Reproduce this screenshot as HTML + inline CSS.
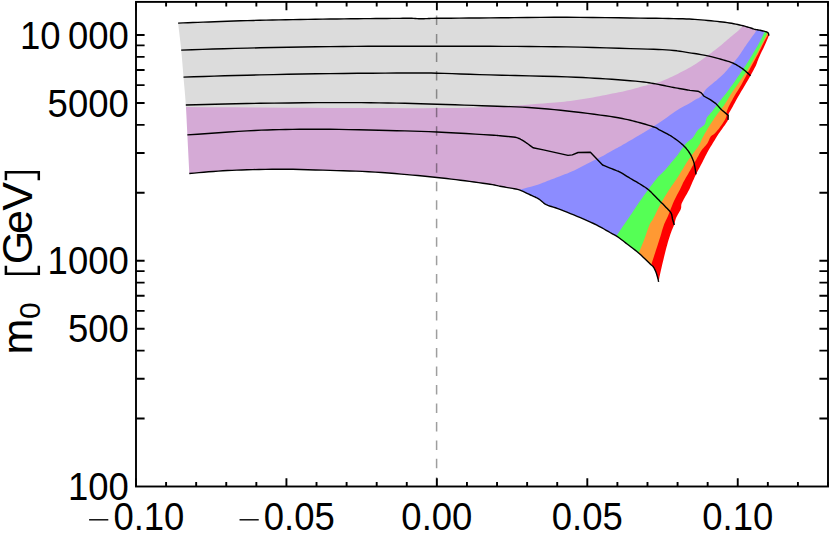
<!DOCTYPE html>
<html><head><meta charset="utf-8"><title>plot</title>
<style>html,body{margin:0;padding:0;background:#fff;overflow:hidden}svg{display:block;position:absolute;left:0;top:0}</style></head>
<body>
<svg width="830" height="533" viewBox="0 0 830 533">
<rect width="830" height="533" fill="#fff"/>
<defs><mask id="c" maskUnits="userSpaceOnUse" x="0" y="0" width="830" height="533"><path d="M178.10 23.10 L183.09 22.91 L187.97 22.72 L192.85 22.54 L197.84 22.35 L203.05 22.15 L208.60 21.95 L214.55 21.73 L220.84 21.49 L227.34 21.25 L233.96 21.02 L240.58 20.80 L247.10 20.60 L253.46 20.43 L259.75 20.29 L266.04 20.16 L272.41 20.04 L278.94 19.92 L285.70 19.80 L292.80 19.67 L300.20 19.54 L307.76 19.41 L315.34 19.28 L322.80 19.17 L330.00 19.06 L337.03 18.96 L344.02 18.88 L350.89 18.80 L357.57 18.73 L363.96 18.66 L370.00 18.60 L375.81 18.55 L381.48 18.50 L386.88 18.46 L391.85 18.42 L396.27 18.38 L400.00 18.35 L402.82 18.31 L404.79 18.26 L406.21 18.22 L407.36 18.19 L408.53 18.18 L410.00 18.20 L411.75 18.27 L413.53 18.38 L415.34 18.51 L417.13 18.64 L418.90 18.75 L420.60 18.80 L422.26 18.79 L423.91 18.75 L425.53 18.67 L427.09 18.59 L428.59 18.51 L430.00 18.45 L430.77 18.42 L430.81 18.39 L430.77 18.38 L431.35 18.36 L433.20 18.34 L437.00 18.30 L442.89 18.25 L450.37 18.19 L459.12 18.13 L468.85 18.06 L479.25 17.98 L490.00 17.90 L501.49 17.80 L514.04 17.66 L527.25 17.52 L540.74 17.40 L554.12 17.32 L567.00 17.30 L579.80 17.35 L592.90 17.47 L605.90 17.62 L618.36 17.80 L629.87 17.96 L640.00 18.10 L648.65 18.21 L656.13 18.30 L662.66 18.39 L668.44 18.49 L673.69 18.58 L678.60 18.70 L682.92 18.82 L686.43 18.94 L689.41 19.07 L692.11 19.22 L694.82 19.39 L697.80 19.60 L701.07 19.85 L704.40 20.13 L707.74 20.44 L711.02 20.76 L714.16 21.08 L717.10 21.40 L719.83 21.70 L722.40 22.00 L724.84 22.31 L727.17 22.62 L729.41 22.95 L731.60 23.30 L733.73 23.69 L735.80 24.10 L737.78 24.53 L739.66 24.97 L741.44 25.39 L743.10 25.80 L744.65 26.19 L746.09 26.59 L747.42 26.98 L748.66 27.34 L749.78 27.69 L750.80 28.00 L751.65 28.27 L752.33 28.51 L752.89 28.73 L753.43 28.92 L754.01 29.11 L754.70 29.30 L755.51 29.48 L756.39 29.64 L757.31 29.80 L758.24 29.96 L759.18 30.12 L760.10 30.30 L761.04 30.50 L762.01 30.72 L762.99 30.95 L763.93 31.18 L764.78 31.40 L765.50 31.60 L766.08 31.78 L766.55 31.94 L766.94 32.09 L767.26 32.25 L767.54 32.41 L767.80 32.60 L768.03 32.81 L768.20 33.02 L768.33 33.25 L768.43 33.49 L768.52 33.74 L768.60 34.00 L768.67 34.28 L768.71 34.57 L768.74 34.88 L768.76 35.19 L768.77 35.50 L768.80 35.80 L768.20 37.25 L767.61 38.67 L767.03 40.10 L766.43 41.55 L765.79 43.04 L765.10 44.60 L764.31 46.30 L763.43 48.13 L762.51 50.01 L761.61 51.84 L760.79 53.53 L760.10 55.00 L759.56 56.20 L759.13 57.20 L758.77 58.06 L758.45 58.86 L758.14 59.65 L757.80 60.50 L757.47 61.35 L757.20 62.14 L756.93 62.93 L756.62 63.78 L756.23 64.75 L755.70 65.90 L755.02 67.28 L754.20 68.86 L753.31 70.56 L752.36 72.31 L751.41 74.04 L750.50 75.70 L749.63 77.26 L748.76 78.76 L747.89 80.26 L747.00 81.77 L746.08 83.34 L745.10 85.00 L744.05 86.77 L742.92 88.65 L741.76 90.57 L740.60 92.51 L739.47 94.42 L738.40 96.25 L737.39 98.03 L736.41 99.78 L735.46 101.50 L734.54 103.19 L733.66 104.82 L732.80 106.40 L731.94 107.94 L731.06 109.45 L730.22 110.92 L729.45 112.31 L728.79 113.61 L728.30 114.80 L728.05 115.82 L728.04 116.69 L728.13 117.46 L728.24 118.20 L728.23 119.00 L728.00 119.90 L727.54 120.91 L726.93 121.97 L726.21 123.08 L725.42 124.22 L724.59 125.40 L723.75 126.60 L722.87 127.86 L721.91 129.19 L720.92 130.55 L719.92 131.91 L718.97 133.24 L718.10 134.50 L717.36 135.64 L716.71 136.67 L716.12 137.67 L715.50 138.71 L714.82 139.88 L714.00 141.25 L713.02 142.86 L711.92 144.67 L710.75 146.59 L709.56 148.58 L708.39 150.57 L707.30 152.50 L706.29 154.38 L705.32 156.27 L704.38 158.16 L703.46 160.04 L702.53 161.91 L701.60 163.75 L700.64 165.60 L699.64 167.46 L698.66 169.32 L697.70 171.11 L696.80 172.82 L696.00 174.40 L695.31 175.81 L694.71 177.08 L694.18 178.25 L693.67 179.39 L693.15 180.56 L692.60 181.80 L692.02 183.12 L691.45 184.48 L690.87 185.86 L690.27 187.25 L689.65 188.64 L689.00 190.00 L688.28 191.37 L687.51 192.76 L686.71 194.14 L685.92 195.49 L685.17 196.78 L684.50 198.00 L683.89 199.12 L683.31 200.18 L682.77 201.17 L682.28 202.13 L681.85 203.07 L681.50 204.00 L681.29 204.88 L681.22 205.69 L681.22 206.48 L681.19 207.31 L681.07 208.21 L680.75 209.25 L680.19 210.46 L679.44 211.81 L678.59 213.23 L677.72 214.69 L676.91 216.13 L676.25 217.50 L675.76 218.77 L675.38 219.99 L675.07 221.19 L674.77 222.40 L674.43 223.66 L674.00 225.00 L673.48 226.39 L672.91 227.80 L672.30 229.25 L671.67 230.78 L671.03 232.42 L670.40 234.20 L669.77 236.13 L669.12 238.18 L668.47 240.34 L667.81 242.59 L667.15 244.92 L666.50 247.30 L665.84 249.82 L665.16 252.51 L664.47 255.28 L663.81 258.03 L663.18 260.67 L662.60 263.10 L662.06 265.35 L661.56 267.51 L661.09 269.56 L660.65 271.48 L660.26 273.26 L659.90 274.90 L659.60 276.33 L659.36 277.56 L659.16 278.66 L658.98 279.68 L658.80 280.71 L658.60 281.80 L658.52 281.36 L658.45 280.97 L658.39 280.58 L658.30 280.14 L658.18 279.60 L658.00 278.90 L657.75 278.00 L657.46 276.93 L657.12 275.75 L656.76 274.54 L656.38 273.37 L656.00 272.30 L655.60 271.31 L655.18 270.34 L654.74 269.40 L654.30 268.52 L653.85 267.71 L653.40 267.00 L653.06 266.51 L652.84 266.25 L652.62 266.07 L652.28 265.80 L651.68 265.30 L650.70 264.40 L649.26 263.01 L647.44 261.25 L645.37 259.24 L643.17 257.14 L640.97 255.10 L638.90 253.25 L636.88 251.55 L634.79 249.89 L632.71 248.27 L630.69 246.74 L628.79 245.30 L627.10 244.00 L625.60 242.83 L624.25 241.77 L623.02 240.82 L621.92 239.96 L620.91 239.19 L620.00 238.50 L619.26 237.95 L618.71 237.55 L618.27 237.24 L617.83 236.95 L617.31 236.63 L616.60 236.20 L615.77 235.71 L614.90 235.21 L613.94 234.68 L612.84 234.07 L611.54 233.36 L610.00 232.50 L608.20 231.47 L606.20 230.29 L603.99 229.01 L601.61 227.65 L599.08 226.27 L596.40 224.90 L593.51 223.51 L590.39 222.07 L587.11 220.61 L583.74 219.14 L580.38 217.69 L577.10 216.30 L573.79 214.92 L570.38 213.53 L566.96 212.16 L563.66 210.85 L560.57 209.65 L557.80 208.60 L555.39 207.75 L553.25 207.09 L551.32 206.53 L549.56 206.00 L547.91 205.42 L546.30 204.70 L544.80 203.82 L543.47 202.84 L542.24 201.80 L541.06 200.76 L539.86 199.78 L538.60 198.90 L537.31 198.15 L536.04 197.50 L534.77 196.91 L533.44 196.32 L532.03 195.70 L530.50 195.00 L528.80 194.18 L526.95 193.27 L525.02 192.33 L523.06 191.41 L521.13 190.58 L519.30 189.90 L517.56 189.38 L515.85 188.99 L514.18 188.69 L512.54 188.43 L510.91 188.18 L509.30 187.90 L507.72 187.60 L506.17 187.32 L504.65 187.05 L503.13 186.77 L501.58 186.49 L500.00 186.20 L498.55 185.91 L497.27 185.62 L495.98 185.33 L494.47 185.02 L492.54 184.66 L490.00 184.25 L486.74 183.76 L482.89 183.21 L478.62 182.61 L474.11 181.99 L469.51 181.38 L465.00 180.80 L460.53 180.24 L455.96 179.67 L451.31 179.12 L446.59 178.56 L441.81 178.03 L437.00 177.50 L432.23 176.99 L427.49 176.50 L422.71 176.03 L417.77 175.55 L412.60 175.08 L407.10 174.60 L401.18 174.10 L394.91 173.57 L388.39 173.05 L381.76 172.55 L375.12 172.09 L368.60 171.70 L362.24 171.39 L355.95 171.14 L349.66 170.94 L343.29 170.77 L336.76 170.59 L330.00 170.40 L322.88 170.17 L315.44 169.93 L307.85 169.68 L300.26 169.46 L292.82 169.29 L285.70 169.20 L278.82 169.19 L272.05 169.24 L265.44 169.34 L259.04 169.48 L252.91 169.64 L247.10 169.80 L241.72 169.96 L236.75 170.14 L232.04 170.34 L227.47 170.56 L222.90 170.81 L218.20 171.10 L213.38 171.44 L208.57 171.82 L203.75 172.23 L198.93 172.66 L194.12 173.09 L189.30 173.50 L188.97 166.97 L188.64 160.31 L188.30 153.66 L187.97 147.12 L187.65 140.83 L187.35 134.90 L187.08 129.39 L186.83 124.21 L186.60 119.28 L186.36 114.50 L186.10 109.77 L185.80 105.00 L185.46 100.22 L185.09 95.52 L184.70 90.87 L184.29 86.26 L183.89 81.67 L183.50 77.10 L183.13 72.55 L182.76 68.03 L182.40 63.54 L182.03 59.07 L181.63 54.59 L181.20 50.10 L180.73 45.60 L180.23 41.10 L179.70 36.60 L179.16 32.10 L178.63 27.60 L178.10 23.10 Z" fill="#fff"/></mask></defs>
<g mask="url(#c)">
<rect x="150" y="0" width="650" height="300" fill="#ff0000"/>
<path d="M650.30 268.00 L650.44 267.52 L650.54 267.20 L650.63 266.87 L650.77 266.40 L651.01 265.62 L651.40 264.40 L651.97 262.60 L652.70 260.31 L653.52 257.72 L654.39 255.01 L655.23 252.38 L656.00 250.00 L656.69 247.89 L657.35 245.89 L657.99 243.97 L658.62 242.06 L659.25 240.12 L659.90 238.10 L660.56 235.94 L661.22 233.67 L661.89 231.37 L662.56 229.11 L663.23 226.96 L663.90 225.00 L664.56 223.33 L665.19 221.92 L665.82 220.62 L666.49 219.29 L667.21 217.80 L668.00 216.00 L668.89 213.80 L669.87 211.30 L670.90 208.62 L671.95 205.93 L673.00 203.34 L674.00 201.00 L674.99 198.90 L675.99 196.93 L676.98 195.08 L677.94 193.31 L678.86 191.62 L679.70 190.00 L680.45 188.47 L681.11 187.05 L681.73 185.71 L682.32 184.41 L682.94 183.12 L683.60 181.80 L684.32 180.47 L685.06 179.14 L685.81 177.83 L686.58 176.52 L687.34 175.21 L688.10 173.90 L688.85 172.58 L689.60 171.27 L690.35 169.95 L691.10 168.63 L691.85 167.32 L692.60 166.00 L693.35 164.68 L694.10 163.36 L694.85 162.05 L695.60 160.73 L696.35 159.41 L697.10 158.10 L697.84 156.78 L698.56 155.44 L699.28 154.10 L700.01 152.78 L700.78 151.49 L701.60 150.25 L702.51 149.06 L703.50 147.92 L704.52 146.81 L705.53 145.71 L706.48 144.61 L707.30 143.50 L707.98 142.34 L708.55 141.12 L709.05 139.91 L709.53 138.75 L710.03 137.68 L710.60 136.75 L711.23 136.03 L711.86 135.51 L712.53 135.08 L713.22 134.65 L713.96 134.12 L714.75 133.40 L715.61 132.49 L716.52 131.47 L717.48 130.35 L718.46 129.16 L719.44 127.90 L720.40 126.60 L721.39 125.19 L722.46 123.64 L723.52 122.02 L724.51 120.43 L725.36 118.93 L726.00 117.60 L726.36 116.48 L726.49 115.52 L726.47 114.66 L726.42 113.83 L726.43 112.96 L726.60 112.00 L726.91 110.98 L727.27 109.96 L727.69 108.91 L728.18 107.79 L728.75 106.59 L729.40 105.25 L730.16 103.75 L731.04 102.12 L731.99 100.38 L732.99 98.61 L734.00 96.83 L735.00 95.10 L736.05 93.34 L737.18 91.50 L738.33 89.65 L739.42 87.90 L740.40 86.32 L741.20 85.00 L741.72 84.11 L741.98 83.62 L742.13 83.31 L742.30 82.94 L742.61 82.32 L743.20 81.20 L744.11 79.52 L745.24 77.44 L746.52 75.10 L747.87 72.62 L749.22 70.14 L750.50 67.80 L751.73 65.55 L752.98 63.29 L754.23 61.02 L755.46 58.78 L756.65 56.56 L757.80 54.40 L758.91 52.23 L760.01 50.04 L761.07 47.88 L762.09 45.81 L763.04 43.90 L763.90 42.20 L764.69 40.73 L765.41 39.44 L766.08 38.31 L766.66 37.29 L767.17 36.37 L767.60 35.50 L767.91 34.73 L768.11 34.10 L768.23 33.55 L768.30 33.05 L768.38 32.55 L768.50 32.00 L768.50 -10.00 L100.00 -10.00 L100.00 300.00 L650.30 300.00 Z" fill="#ff9933"/>
<path d="M637.50 256.00 L637.69 255.55 L637.82 255.23 L637.96 254.91 L638.14 254.45 L638.44 253.73 L638.90 252.60 L639.56 250.99 L640.38 249.00 L641.31 246.74 L642.30 244.33 L643.28 241.88 L644.20 239.50 L645.09 237.07 L646.00 234.46 L646.91 231.81 L647.79 229.26 L648.63 226.94 L649.40 225.00 L650.05 223.61 L650.57 222.70 L651.06 222.03 L651.57 221.35 L652.19 220.42 L653.00 219.00 L654.01 217.01 L655.17 214.63 L656.44 212.00 L657.78 209.26 L659.15 206.55 L660.50 204.00 L661.87 201.58 L663.28 199.17 L664.73 196.79 L666.17 194.45 L667.61 192.18 L669.00 190.00 L670.38 187.90 L671.76 185.86 L673.13 183.89 L674.46 181.99 L675.72 180.16 L676.90 178.40 L677.97 176.75 L678.94 175.21 L679.84 173.74 L680.72 172.30 L681.59 170.87 L682.50 169.40 L683.43 167.89 L684.36 166.36 L685.30 164.83 L686.23 163.32 L687.16 161.84 L688.10 160.40 L689.04 159.02 L689.98 157.69 L690.92 156.38 L691.86 155.09 L692.81 153.80 L693.75 152.50 L694.72 151.17 L695.73 149.82 L696.74 148.48 L697.71 147.14 L698.61 145.85 L699.40 144.60 L700.04 143.43 L700.54 142.32 L700.97 141.25 L701.39 140.18 L701.84 139.07 L702.40 137.90 L703.05 136.67 L703.75 135.40 L704.49 134.09 L705.26 132.76 L706.07 131.39 L706.90 130.00 L707.77 128.55 L708.69 127.04 L709.63 125.50 L710.59 123.96 L711.55 122.45 L712.50 121.00 L713.42 119.63 L714.32 118.33 L715.22 117.05 L716.14 115.77 L717.10 114.47 L718.10 113.10 L719.17 111.69 L720.28 110.26 L721.43 108.81 L722.60 107.30 L723.76 105.74 L724.90 104.10 L726.03 102.32 L727.18 100.41 L728.32 98.43 L729.45 96.47 L730.55 94.60 L731.60 92.90 L732.57 91.44 L733.46 90.19 L734.32 89.02 L735.21 87.84 L736.16 86.53 L737.25 85.00 L738.50 83.20 L739.87 81.22 L741.32 79.12 L742.79 76.96 L744.24 74.80 L745.60 72.70 L746.88 70.67 L748.11 68.67 L749.32 66.67 L750.51 64.65 L751.70 62.60 L752.90 60.50 L754.13 58.32 L755.38 56.08 L756.62 53.80 L757.86 51.52 L759.05 49.28 L760.20 47.10 L761.34 44.90 L762.50 42.64 L763.63 40.41 L764.67 38.31 L765.58 36.44 L766.30 34.90 L766.78 33.77 L767.06 32.99 L767.21 32.43 L767.28 31.99 L767.36 31.55 L767.50 31.00 L767.50 -10.00 L100.00 -10.00 L100.00 300.00 L637.50 300.00 Z" fill="#55ff55"/>
<path d="M615.00 239.00 L615.28 238.44 L615.49 237.97 L615.70 237.50 L615.98 236.94 L616.39 236.20 L617.00 235.20 L617.87 233.84 L618.97 232.17 L620.20 230.33 L621.47 228.44 L622.70 226.62 L623.80 225.00 L624.72 223.66 L625.51 222.52 L626.26 221.46 L627.04 220.34 L627.93 219.07 L629.00 217.50 L630.28 215.59 L631.72 213.42 L633.26 211.08 L634.86 208.67 L636.46 206.28 L638.00 204.00 L639.48 201.84 L640.94 199.73 L642.41 197.64 L643.89 195.55 L645.41 193.42 L647.00 191.25 L648.76 188.89 L650.69 186.32 L652.66 183.73 L654.54 181.29 L656.20 179.15 L657.50 177.50 L658.34 176.47 L658.81 175.95 L659.06 175.74 L659.23 175.65 L659.50 175.47 L660.00 175.00 L660.75 174.26 L661.64 173.41 L662.60 172.47 L663.61 171.47 L664.63 170.44 L665.60 169.40 L666.54 168.33 L667.48 167.22 L668.42 166.07 L669.36 164.90 L670.31 163.74 L671.25 162.60 L672.19 161.49 L673.14 160.40 L674.08 159.32 L675.02 158.22 L675.96 157.08 L676.90 155.90 L677.85 154.63 L678.81 153.27 L679.77 151.88 L680.72 150.51 L681.63 149.20 L682.50 148.00 L683.30 146.92 L684.04 145.92 L684.75 144.99 L685.46 144.10 L686.20 143.24 L687.00 142.40 L687.87 141.63 L688.80 140.94 L689.75 140.29 L690.71 139.61 L691.67 138.83 L692.60 137.90 L693.48 136.75 L694.34 135.43 L695.18 134.02 L696.04 132.59 L696.94 131.22 L697.90 130.00 L698.99 128.95 L700.19 128.01 L701.44 127.13 L702.64 126.27 L703.72 125.38 L704.60 124.40 L705.20 123.33 L705.57 122.22 L705.82 121.07 L706.05 119.90 L706.38 118.74 L706.90 117.60 L707.63 116.50 L708.48 115.44 L709.42 114.39 L710.43 113.30 L711.46 112.15 L712.50 110.90 L713.56 109.53 L714.66 108.05 L715.80 106.51 L716.96 104.95 L718.11 103.40 L719.25 101.90 L720.38 100.45 L721.52 99.03 L722.66 97.61 L723.79 96.21 L724.91 94.81 L726.00 93.40 L727.04 92.04 L728.02 90.74 L728.99 89.44 L729.98 88.09 L731.04 86.62 L732.20 85.00 L733.50 83.16 L734.91 81.14 L736.38 79.01 L737.87 76.85 L739.33 74.72 L740.70 72.70 L741.98 70.81 L743.22 68.98 L744.42 67.19 L745.60 65.41 L746.79 63.59 L748.00 61.70 L749.26 59.69 L750.56 57.59 L751.86 55.44 L753.12 53.34 L754.32 51.33 L755.40 49.50 L756.36 47.87 L757.22 46.39 L758.01 45.02 L758.75 43.70 L759.47 42.37 L760.20 41.00 L760.96 39.51 L761.73 37.94 L762.48 36.38 L763.17 34.89 L763.79 33.57 L764.30 32.50 L764.67 31.74 L764.91 31.22 L765.08 30.88 L765.21 30.61 L765.33 30.35 L765.50 30.00 L765.50 -10.00 L100.00 -10.00 L100.00 300.00 L615.00 300.00 Z" fill="#8c8cff"/>
<path d="M517.00 192.00 L517.21 191.68 L517.20 191.40 L517.19 191.12 L517.40 190.81 L518.03 190.41 L519.30 189.90 L521.43 189.24 L524.28 188.45 L527.56 187.58 L530.96 186.69 L534.18 185.81 L536.90 185.00 L539.11 184.25 L541.06 183.53 L542.82 182.83 L544.48 182.14 L546.11 181.47 L547.80 180.80 L549.47 180.17 L551.03 179.57 L552.57 178.99 L554.17 178.39 L555.88 177.74 L557.80 177.00 L559.96 176.18 L562.30 175.30 L564.77 174.37 L567.31 173.39 L569.84 172.36 L572.30 171.30 L574.70 170.17 L577.10 168.98 L579.50 167.74 L581.90 166.49 L584.30 165.23 L586.70 164.00 L589.14 162.79 L591.63 161.57 L594.13 160.35 L596.58 159.14 L598.95 157.96 L601.20 156.80 L603.35 155.65 L605.44 154.49 L607.46 153.34 L609.37 152.25 L611.15 151.22 L612.80 150.30 L614.24 149.51 L615.47 148.85 L616.58 148.26 L617.64 147.69 L618.76 147.09 L620.00 146.40 L621.35 145.64 L622.73 144.84 L624.15 144.02 L625.63 143.15 L627.18 142.25 L628.80 141.30 L630.57 140.27 L632.49 139.15 L634.48 137.99 L636.45 136.84 L638.32 135.74 L640.00 134.75 L641.38 133.94 L642.50 133.29 L643.51 132.70 L644.58 132.06 L645.86 131.28 L647.50 130.25 L649.57 128.94 L651.94 127.42 L654.53 125.75 L657.22 124.00 L659.91 122.23 L662.50 120.50 L665.03 118.75 L667.59 116.93 L670.16 115.08 L672.69 113.27 L675.14 111.56 L677.50 110.00 L679.81 108.59 L682.11 107.27 L684.34 106.06 L686.44 104.94 L688.34 103.92 L690.00 103.00 L691.33 102.22 L692.38 101.60 L693.23 101.07 L693.99 100.60 L694.74 100.12 L695.60 99.60 L696.55 99.08 L697.52 98.61 L698.49 98.13 L699.45 97.62 L700.37 97.00 L701.25 96.25 L702.06 95.30 L702.81 94.17 L703.54 92.95 L704.25 91.71 L704.98 90.53 L705.75 89.50 L706.48 88.68 L707.15 88.03 L707.83 87.45 L708.61 86.82 L709.57 86.04 L710.80 85.00 L712.39 83.66 L714.29 82.09 L716.38 80.38 L718.51 78.59 L720.56 76.80 L722.40 75.10 L724.02 73.46 L725.54 71.81 L726.97 70.17 L728.34 68.54 L729.68 66.95 L731.00 65.40 L732.29 63.93 L733.53 62.54 L734.73 61.18 L735.91 59.80 L737.10 58.35 L738.30 56.80 L739.53 55.09 L740.78 53.25 L742.02 51.35 L743.26 49.45 L744.45 47.61 L745.60 45.90 L746.71 44.30 L747.79 42.77 L748.84 41.30 L749.84 39.90 L750.80 38.56 L751.70 37.30 L752.55 36.11 L753.37 34.97 L754.14 33.91 L754.84 32.93 L755.47 32.02 L756.00 31.20 L756.41 30.50 L756.71 29.92 L756.92 29.42 L757.10 28.96 L757.28 28.50 L757.50 28.00 L757.50 -10.00 L100.00 -10.00 L100.00 300.00 L517.00 300.00 Z" fill="#d5aad6"/>
<path d="M185.90 107.00 L210.35 107.16 L235.31 107.33 L260.27 107.49 L284.71 107.65 L308.13 107.79 L330.00 107.90 L350.72 107.99 L370.79 108.06 L389.82 108.11 L407.45 108.13 L423.30 108.13 L437.00 108.10 L448.25 108.02 L457.30 107.90 L464.56 107.76 L470.48 107.60 L475.48 107.44 L480.00 107.30 L483.38 107.18 L485.15 107.07 L486.00 106.96 L486.63 106.85 L487.73 106.73 L490.00 106.60 L493.47 106.47 L497.60 106.35 L502.20 106.22 L507.09 106.06 L512.08 105.86 L517.00 105.60 L522.05 105.25 L527.41 104.82 L532.88 104.34 L538.24 103.86 L543.29 103.40 L547.80 103.00 L551.68 102.68 L555.09 102.40 L558.17 102.16 L561.09 101.91 L564.02 101.63 L567.10 101.30 L570.32 100.92 L573.53 100.51 L576.75 100.07 L579.97 99.61 L583.18 99.12 L586.40 98.60 L589.62 98.04 L592.83 97.45 L596.05 96.83 L599.27 96.19 L602.48 95.54 L605.70 94.90 L608.97 94.26 L612.29 93.61 L615.62 92.96 L618.89 92.31 L622.03 91.65 L625.00 91.00 L627.81 90.34 L630.50 89.66 L633.08 88.97 L635.53 88.31 L637.84 87.68 L640.00 87.10 L641.96 86.58 L643.73 86.10 L645.36 85.66 L646.90 85.23 L648.43 84.82 L650.00 84.40 L651.57 84.01 L653.10 83.65 L654.61 83.31 L656.12 82.94 L657.68 82.51 L659.30 82.00 L660.98 81.40 L662.71 80.74 L664.47 80.03 L666.27 79.27 L668.11 78.45 L670.00 77.60 L671.95 76.69 L673.96 75.71 L676.01 74.69 L678.08 73.64 L680.15 72.57 L682.20 71.50 L684.23 70.44 L686.27 69.38 L688.30 68.31 L690.33 67.20 L692.37 66.03 L694.40 64.80 L696.43 63.48 L698.47 62.09 L700.50 60.65 L702.53 59.17 L704.57 57.68 L706.60 56.20 L708.68 54.69 L710.80 53.14 L712.93 51.57 L715.01 50.02 L716.98 48.52 L718.80 47.10 L720.44 45.77 L721.95 44.49 L723.36 43.26 L724.69 42.08 L726.00 40.93 L727.30 39.80 L728.63 38.68 L729.95 37.57 L731.24 36.50 L732.46 35.48 L733.59 34.54 L734.60 33.70 L735.45 33.00 L736.15 32.43 L736.76 31.93 L737.33 31.46 L737.89 30.97 L738.50 30.40 L739.18 29.73 L739.89 28.99 L740.59 28.23 L741.27 27.49 L741.88 26.79 L742.40 26.20 L742.80 25.72 L743.10 25.32 L743.34 24.98 L743.55 24.66 L743.76 24.34 L744.00 24.00 L744.00 -10.00 L100.00 -10.00 L100.00 300.00 L185.90 300.00 Z" fill="#dcdcdc"/>
</g>
<line x1="436.6" y1="15.47" x2="436.6" y2="486" stroke="#000" stroke-opacity="0.38" stroke-width="1.5" stroke-dasharray="9.5 8.975"/>
<path d="M178.10 23.10 L183.09 22.91 L187.97 22.72 L192.85 22.54 L197.84 22.35 L203.05 22.15 L208.60 21.95 L214.55 21.73 L220.84 21.49 L227.34 21.25 L233.96 21.02 L240.58 20.80 L247.10 20.60 L253.46 20.43 L259.75 20.29 L266.04 20.16 L272.41 20.04 L278.94 19.92 L285.70 19.80 L292.80 19.67 L300.20 19.54 L307.76 19.41 L315.34 19.28 L322.80 19.17 L330.00 19.06 L337.03 18.96 L344.02 18.88 L350.89 18.80 L357.57 18.73 L363.96 18.66 L370.00 18.60 L375.81 18.55 L381.48 18.50 L386.88 18.46 L391.85 18.42 L396.27 18.38 L400.00 18.35 L402.82 18.31 L404.79 18.26 L406.21 18.22 L407.36 18.19 L408.53 18.18 L410.00 18.20 L411.75 18.27 L413.53 18.38 L415.34 18.51 L417.13 18.64 L418.90 18.75 L420.60 18.80 L422.26 18.79 L423.91 18.75 L425.53 18.67 L427.09 18.59 L428.59 18.51 L430.00 18.45 L430.77 18.42 L430.81 18.39 L430.77 18.38 L431.35 18.36 L433.20 18.34 L437.00 18.30 L442.89 18.25 L450.37 18.19 L459.12 18.13 L468.85 18.06 L479.25 17.98 L490.00 17.90 L501.49 17.80 L514.04 17.66 L527.25 17.52 L540.74 17.40 L554.12 17.32 L567.00 17.30 L579.80 17.35 L592.90 17.47 L605.90 17.62 L618.36 17.80 L629.87 17.96 L640.00 18.10 L648.65 18.21 L656.13 18.30 L662.66 18.39 L668.44 18.49 L673.69 18.58 L678.60 18.70 L682.92 18.82 L686.43 18.94 L689.41 19.07 L692.11 19.22 L694.82 19.39 L697.80 19.60 L701.07 19.85 L704.40 20.13 L707.74 20.44 L711.02 20.76 L714.16 21.08 L717.10 21.40 L719.83 21.70 L722.40 22.00 L724.84 22.31 L727.17 22.62 L729.41 22.95 L731.60 23.30 L733.73 23.69 L735.80 24.10 L737.78 24.53 L739.66 24.97 L741.44 25.39 L743.10 25.80 L744.65 26.19 L746.09 26.59 L747.42 26.98 L748.66 27.34 L749.78 27.69 L750.80 28.00 L751.65 28.27 L752.33 28.51 L752.89 28.73 L753.43 28.92 L754.01 29.11 L754.70 29.30 L755.51 29.48 L756.39 29.64 L757.31 29.80 L758.24 29.96 L759.18 30.12 L760.10 30.30 L761.04 30.50 L762.01 30.72 L762.99 30.95 L763.93 31.18 L764.78 31.40 L765.50 31.60 L766.08 31.78 L766.55 31.94 L766.94 32.09 L767.26 32.25 L767.54 32.41 L767.80 32.60 L768.03 32.81 L768.20 33.02 L768.33 33.25 L768.43 33.49 L768.52 33.74 L768.60 34.00 L768.67 34.28 L768.71 34.57 L768.74 34.88 L768.76 35.19 L768.77 35.50 L768.80 35.80" fill="none" stroke="#000" stroke-width="1.4" stroke-linejoin="round" stroke-linecap="butt"/>
<path d="M189.30 173.50 L194.12 173.09 L198.93 172.66 L203.75 172.23 L208.57 171.82 L213.38 171.44 L218.20 171.10 L222.90 170.81 L227.47 170.56 L232.04 170.34 L236.75 170.14 L241.72 169.96 L247.10 169.80 L252.91 169.64 L259.04 169.48 L265.44 169.34 L272.05 169.24 L278.82 169.19 L285.70 169.20 L292.82 169.29 L300.26 169.46 L307.85 169.68 L315.44 169.93 L322.88 170.17 L330.00 170.40 L336.76 170.59 L343.29 170.77 L349.66 170.94 L355.95 171.14 L362.24 171.39 L368.60 171.70 L375.12 172.09 L381.76 172.55 L388.39 173.05 L394.91 173.57 L401.18 174.10 L407.10 174.60 L412.60 175.08 L417.77 175.55 L422.71 176.03 L427.49 176.50 L432.23 176.99 L437.00 177.50 L441.81 178.03 L446.59 178.56 L451.31 179.12 L455.96 179.67 L460.53 180.24 L465.00 180.80 L469.51 181.38 L474.11 181.99 L478.62 182.61 L482.89 183.21 L486.74 183.76 L490.00 184.25 L492.54 184.66 L494.47 185.02 L495.98 185.33 L497.27 185.62 L498.55 185.91 L500.00 186.20 L501.58 186.49 L503.13 186.77 L504.65 187.05 L506.17 187.32 L507.72 187.60 L509.30 187.90 L510.91 188.18 L512.54 188.43 L514.18 188.69 L515.85 188.99 L517.56 189.38 L519.30 189.90 L521.13 190.58 L523.06 191.41 L525.02 192.33 L526.95 193.27 L528.80 194.18 L530.50 195.00 L532.03 195.70 L533.44 196.32 L534.77 196.91 L536.04 197.50 L537.31 198.15 L538.60 198.90 L539.86 199.78 L541.06 200.76 L542.24 201.80 L543.47 202.84 L544.80 203.82 L546.30 204.70 L547.91 205.42 L549.56 206.00 L551.32 206.53 L553.25 207.09 L555.39 207.75 L557.80 208.60 L560.57 209.65 L563.66 210.85 L566.96 212.16 L570.38 213.53 L573.79 214.92 L577.10 216.30 L580.38 217.69 L583.74 219.14 L587.11 220.61 L590.39 222.07 L593.51 223.51 L596.40 224.90 L599.08 226.27 L601.61 227.65 L603.99 229.01 L606.20 230.29 L608.20 231.47 L610.00 232.50 L611.54 233.36 L612.84 234.07 L613.94 234.68 L614.90 235.21 L615.77 235.71 L616.60 236.20 L617.31 236.63 L617.83 236.95 L618.27 237.24 L618.71 237.55 L619.26 237.95 L620.00 238.50 L620.91 239.19 L621.92 239.96 L623.02 240.82 L624.25 241.77 L625.60 242.83 L627.10 244.00 L628.79 245.30 L630.69 246.74 L632.71 248.27 L634.79 249.89 L636.88 251.55 L638.90 253.25 L640.97 255.10 L643.17 257.14 L645.37 259.24 L647.44 261.25 L649.26 263.01 L650.70 264.40 L651.68 265.30 L652.28 265.80 L652.62 266.07 L652.84 266.25 L653.06 266.51 L653.40 267.00 L653.85 267.71 L654.30 268.52 L654.74 269.40 L655.18 270.34 L655.60 271.31 L656.00 272.30 L656.38 273.37 L656.76 274.54 L657.12 275.75 L657.46 276.93 L657.75 278.00 L658.00 278.90 L658.18 279.60 L658.30 280.14 L658.39 280.58 L658.45 280.97 L658.52 281.36 L658.60 281.80" fill="none" stroke="#000" stroke-width="1.4" stroke-linejoin="round" stroke-linecap="butt"/>
<path d="M181.20 50.10 L191.99 49.76 L202.54 49.41 L213.09 49.07 L223.87 48.73 L235.13 48.40 L247.10 48.10 L260.00 47.81 L273.69 47.52 L287.86 47.25 L302.17 47.00 L316.33 46.78 L330.00 46.60 L343.11 46.46 L355.88 46.37 L368.49 46.30 L381.11 46.26 L393.89 46.23 L407.00 46.20 L420.56 46.18 L434.44 46.18 L448.50 46.19 L462.56 46.21 L476.44 46.25 L490.00 46.30 L503.23 46.35 L516.26 46.41 L529.12 46.48 L541.85 46.58 L554.47 46.71 L567.00 46.90 L579.90 47.16 L593.22 47.49 L606.44 47.86 L619.00 48.24 L630.37 48.60 L640.00 48.90 L647.62 49.13 L653.62 49.31 L658.42 49.47 L662.46 49.63 L666.17 49.83 L670.00 50.10 L673.73 50.44 L676.97 50.82 L679.88 51.24 L682.63 51.68 L685.39 52.14 L688.30 52.60 L691.42 53.07 L694.63 53.56 L697.83 54.06 L700.95 54.57 L703.90 55.09 L706.60 55.60 L708.99 56.11 L711.12 56.61 L713.08 57.11 L714.96 57.63 L716.84 58.15 L718.80 58.70 L720.89 59.27 L723.05 59.86 L725.21 60.46 L727.30 61.07 L729.25 61.69 L731.00 62.30 L732.51 62.91 L733.84 63.51 L735.03 64.11 L736.14 64.73 L737.21 65.35 L738.30 66.00 L739.39 66.66 L740.42 67.31 L741.42 67.99 L742.41 68.69 L743.40 69.42 L744.40 70.20 L745.42 71.04 L746.43 71.94 L747.45 72.87 L748.47 73.82 L749.48 74.77 L750.50 75.70" fill="none" stroke="#000" stroke-width="1.4" stroke-linejoin="round" stroke-linecap="butt"/>
<path d="M183.50 77.10 L193.88 76.78 L203.99 76.46 L214.09 76.13 L224.47 75.81 L235.38 75.50 L247.10 75.20 L259.87 74.90 L273.52 74.61 L287.71 74.32 L302.09 74.05 L316.30 73.81 L330.00 73.60 L343.72 73.43 L357.84 73.30 L371.81 73.19 L385.03 73.10 L396.95 73.04 L407.00 73.00 L414.45 72.97 L419.63 72.95 L423.50 72.96 L427.04 72.99 L431.21 73.07 L437.00 73.20 L444.22 73.39 L452.07 73.64 L460.56 73.94 L469.70 74.26 L479.51 74.58 L490.00 74.90 L501.89 75.22 L515.31 75.54 L529.39 75.88 L543.28 76.22 L556.11 76.56 L567.00 76.90 L575.72 77.23 L582.90 77.54 L589.02 77.86 L594.54 78.18 L599.95 78.53 L605.70 78.90 L611.89 79.31 L618.15 79.76 L624.29 80.23 L630.11 80.70 L635.41 81.17 L640.00 81.60 L643.69 82.00 L646.60 82.36 L649.00 82.72 L651.14 83.08 L653.29 83.47 L655.70 83.90 L658.40 84.40 L661.18 84.95 L663.97 85.53 L666.69 86.10 L669.25 86.63 L671.60 87.10 L673.71 87.50 L675.63 87.85 L677.41 88.16 L679.07 88.45 L680.66 88.73 L682.20 89.00 L683.66 89.26 L685.01 89.50 L686.27 89.73 L687.50 89.95 L688.73 90.17 L690.00 90.40 L697.90 91.20 L701.25 92.90 L704.10 96.25 L710.25 99.60 L715.90 103.60 L721.50 109.75 L728.25 115.40 L728.00 119.90" fill="none" stroke="#000" stroke-width="1.4" stroke-linejoin="round" stroke-linecap="butt"/>
<path d="M185.80 105.00 L195.77 104.74 L205.43 104.48 L215.10 104.21 L225.07 103.96 L235.63 103.72 L247.10 103.50 L259.95 103.30 L274.06 103.11 L288.76 102.93 L303.41 102.78 L317.37 102.67 L330.00 102.60 L341.21 102.58 L351.51 102.61 L361.12 102.67 L370.26 102.76 L379.14 102.87 L388.00 103.00 L396.64 103.15 L404.85 103.32 L412.81 103.51 L420.70 103.73 L428.71 103.96 L437.00 104.20 L445.77 104.47 L454.90 104.77 L464.15 105.08 L473.25 105.40 L481.95 105.71 L490.00 106.00 L497.27 106.24 L503.94 106.45 L510.21 106.64 L516.27 106.86 L522.34 107.14 L528.60 107.50 L535.02 107.95 L541.44 108.47 L547.85 109.04 L554.26 109.66 L560.68 110.32 L567.10 111.00 L573.75 111.74 L580.67 112.56 L587.60 113.41 L594.26 114.26 L600.38 115.07 L605.70 115.80 L610.08 116.43 L613.72 117.00 L616.83 117.52 L619.60 118.03 L622.26 118.55 L625.00 119.10 L627.75 119.68 L630.32 120.25 L632.77 120.84 L635.16 121.45 L637.55 122.08 L640.00 122.75 L642.62 123.49 L645.37 124.29 L648.12 125.13 L650.74 125.95 L653.08 126.72 L655.00 127.40 L656.34 127.94 L657.18 128.35 L657.73 128.72 L658.24 129.10 L658.92 129.57 L660.00 130.20 L661.51 130.99 L663.29 131.87 L665.23 132.85 L667.27 133.90 L669.30 135.02 L671.25 136.20 L673.18 137.47 L675.17 138.84 L677.16 140.28 L679.08 141.75 L680.89 143.20 L682.50 144.60 L683.92 145.95 L685.19 147.27 L686.33 148.58 L687.37 149.89 L688.34 151.19 L689.25 152.50 L690.10 153.83 L690.86 155.18 L691.54 156.52 L692.15 157.86 L692.70 159.15 L693.20 160.40 L693.62 161.58 L693.96 162.70 L694.23 163.79 L694.46 164.87 L694.68 165.96 L694.90 167.10 L695.12 168.28 L695.31 169.49 L695.49 170.71 L695.66 171.94 L695.82 173.18 L696.00 174.40" fill="none" stroke="#000" stroke-width="1.4" stroke-linejoin="round" stroke-linecap="butt"/>
<path d="M187.35 134.90 L197.55 134.19 L208.05 133.45 L218.55 132.71 L228.75 132.00 L238.37 131.37 L247.10 130.85 L254.69 130.46 L261.32 130.16 L267.37 129.93 L273.19 129.76 L279.18 129.63 L285.70 129.50 L292.59 129.38 L299.54 129.30 L306.64 129.24 L314.01 129.22 L321.76 129.24 L330.00 129.30 L338.98 129.42 L348.65 129.59 L358.71 129.79 L368.83 130.03 L378.70 130.27 L388.00 130.50 L396.64 130.72 L404.85 130.92 L412.81 131.14 L420.70 131.38 L428.71 131.66 L437.00 132.00 L446.10 132.44 L455.96 132.97 L465.94 133.54 L475.37 134.11 L483.61 134.61 L490.00 135.00 L494.09 135.25 L496.33 135.40 L497.36 135.49 L497.87 135.56 L498.53 135.65 L500.00 135.80 L502.33 136.00 L505.00 136.21 L507.82 136.44 L510.59 136.69 L513.11 136.98 L515.20 137.30 L516.80 137.66 L518.07 138.06 L519.09 138.49 L519.97 138.95 L520.80 139.42 L521.70 139.90 L522.61 140.38 L523.43 140.87 L524.21 141.38 L524.99 141.91 L525.81 142.48 L526.70 143.10 L527.67 143.79 L528.70 144.53 L529.77 145.31 L530.85 146.11 L531.93 146.92 L533.00 147.70 L543.40 149.90 L568.00 155.40 L572.30 154.90 L578.10 152.50 L590.40 152.20 L602.60 165.00 L604.81 165.90 L607.13 166.86 L609.45 167.81 L611.66 168.71 L613.65 169.52 L615.30 170.20 L616.48 170.66 L617.24 170.91 L617.79 171.07 L618.30 171.26 L618.97 171.56 L620.00 172.10 L621.43 172.92 L623.13 173.94 L624.98 175.09 L626.90 176.29 L628.77 177.45 L630.50 178.50 L632.09 179.43 L633.61 180.31 L635.09 181.15 L636.56 181.98 L638.02 182.84 L639.50 183.75 L641.00 184.68 L642.50 185.60 L644.00 186.54 L645.50 187.54 L647.00 188.61 L648.50 189.80 L650.02 191.14 L651.56 192.62 L653.09 194.18 L654.61 195.77 L656.09 197.31 L657.50 198.75 L658.85 200.09 L660.17 201.39 L661.44 202.64 L662.67 203.86 L663.85 205.06 L665.00 206.25 L666.14 207.43 L667.28 208.58 L668.38 209.72 L669.39 210.83 L670.28 211.93 L671.00 213.00 L671.51 214.04 L671.82 215.06 L672.01 216.05 L672.14 217.03 L672.28 218.01 L672.50 219.00 L672.78 220.00 L673.08 221.00 L673.38 222.00 L673.69 223.00 L674.00 224.00 L674.30 225.00" fill="none" stroke="#000" stroke-width="1.4" stroke-linejoin="round" stroke-linecap="butt"/>
<rect x="136.00" y="1.90" width="692.00" height="484.60" fill="none" stroke="#000" stroke-width="1.9"/>
<path d="M136.00 486.50 v-8.30 M136.00 1.90 v8.30 M166.09 486.50 v-4.60 M166.09 1.90 v4.60 M196.17 486.50 v-4.60 M196.17 1.90 v4.60 M226.26 486.50 v-4.60 M226.26 1.90 v4.60 M256.35 486.50 v-4.60 M256.35 1.90 v4.60 M286.43 486.50 v-8.30 M286.43 1.90 v8.30 M316.52 486.50 v-4.60 M316.52 1.90 v4.60 M346.61 486.50 v-4.60 M346.61 1.90 v4.60 M376.70 486.50 v-4.60 M376.70 1.90 v4.60 M406.78 486.50 v-4.60 M406.78 1.90 v4.60 M436.87 486.50 v-8.30 M436.87 1.90 v8.30 M466.96 486.50 v-4.60 M466.96 1.90 v4.60 M497.04 486.50 v-4.60 M497.04 1.90 v4.60 M527.13 486.50 v-4.60 M527.13 1.90 v4.60 M557.22 486.50 v-4.60 M557.22 1.90 v4.60 M587.30 486.50 v-8.30 M587.30 1.90 v8.30 M617.39 486.50 v-4.60 M617.39 1.90 v4.60 M647.48 486.50 v-4.60 M647.48 1.90 v4.60 M677.57 486.50 v-4.60 M677.57 1.90 v4.60 M707.65 486.50 v-4.60 M707.65 1.90 v4.60 M737.74 486.50 v-8.30 M737.74 1.90 v8.30 M767.83 486.50 v-4.60 M767.83 1.90 v4.60 M797.91 486.50 v-4.60 M797.91 1.90 v4.60 M828.00 486.50 v-4.60 M828.00 1.90 v4.60 M136.00 418.54 h8.60 M828.00 418.54 h-8.60 M136.00 378.79 h8.60 M828.00 378.79 h-8.60 M136.00 350.58 h8.60 M828.00 350.58 h-8.60 M136.00 328.71 h8.60 M828.00 328.71 h-8.60 M136.00 310.83 h8.60 M828.00 310.83 h-8.60 M136.00 295.72 h8.60 M828.00 295.72 h-8.60 M136.00 282.63 h8.60 M828.00 282.63 h-8.60 M136.00 271.08 h8.60 M828.00 271.08 h-8.60 M136.00 260.75 h8.60 M828.00 260.75 h-8.60 M136.00 192.79 h8.60 M828.00 192.79 h-8.60 M136.00 153.04 h8.60 M828.00 153.04 h-8.60 M136.00 124.83 h8.60 M828.00 124.83 h-8.60 M136.00 102.96 h8.60 M828.00 102.96 h-8.60 M136.00 85.08 h8.60 M828.00 85.08 h-8.60 M136.00 69.97 h8.60 M828.00 69.97 h-8.60 M136.00 56.88 h8.60 M828.00 56.88 h-8.60 M136.00 45.33 h8.60 M828.00 45.33 h-8.60 M136.00 35.00 h8.60 M828.00 35.00 h-8.60" stroke="#000" stroke-width="1.9" fill="none"/>
<text transform="translate(128.8,48.70) scale(1,1.055)" text-anchor="end" font-family="Liberation Sans, sans-serif" font-size="36.5" fill="#000">10 000</text>
<text transform="translate(128.8,116.66) scale(1,1.055)" text-anchor="end" font-family="Liberation Sans, sans-serif" font-size="36.5" fill="#000">5000</text>
<text transform="translate(128.8,274.45) scale(1,1.055)" text-anchor="end" font-family="Liberation Sans, sans-serif" font-size="36.5" fill="#000">1000</text>
<text transform="translate(128.8,342.41) scale(1,1.055)" text-anchor="end" font-family="Liberation Sans, sans-serif" font-size="36.5" fill="#000">500</text>
<text transform="translate(128.8,500.20) scale(1,1.055)" text-anchor="end" font-family="Liberation Sans, sans-serif" font-size="36.5" fill="#000">100</text>
<text transform="translate(148.90,530.15) scale(1,1.055)" text-anchor="middle" font-family="Liberation Sans, sans-serif" font-size="36.5" fill="#000">0.10</text>
<line x1="89.10" y1="519.8" x2="108.30" y2="519.8" stroke="#000" stroke-width="1.4"/>
<text transform="translate(299.33,530.15) scale(1,1.055)" text-anchor="middle" font-family="Liberation Sans, sans-serif" font-size="36.5" fill="#000">0.05</text>
<line x1="239.53" y1="519.8" x2="258.73" y2="519.8" stroke="#000" stroke-width="1.4"/>
<text transform="translate(436.87,530.15) scale(1,1.055)" text-anchor="middle" font-family="Liberation Sans, sans-serif" font-size="36.5" fill="#000">0.00</text>
<text transform="translate(587.30,530.15) scale(1,1.055)" text-anchor="middle" font-family="Liberation Sans, sans-serif" font-size="36.5" fill="#000">0.05</text>
<text transform="translate(737.74,530.15) scale(1,1.055)" text-anchor="middle" font-family="Liberation Sans, sans-serif" font-size="36.5" fill="#000">0.10</text>
<g transform="translate(32.4,354.4) rotate(-90)" font-family="Liberation Sans, sans-serif" fill="#000"><text x="0" y="0" font-size="43">m</text><text x="35.4" y="8" font-size="30">0</text><text y="0" font-size="43"><tspan x="90.1">G</tspan><tspan x="120.3">e</tspan><tspan x="143.7">V</tspan></text><path d="M88.65 -26.5 H80.7 V6.4 H88.65 M174.15 -26.5 H182.1 V6.4 H174.15" fill="none" stroke="#000" stroke-width="2.5"/></g>
</svg>
</body></html>
